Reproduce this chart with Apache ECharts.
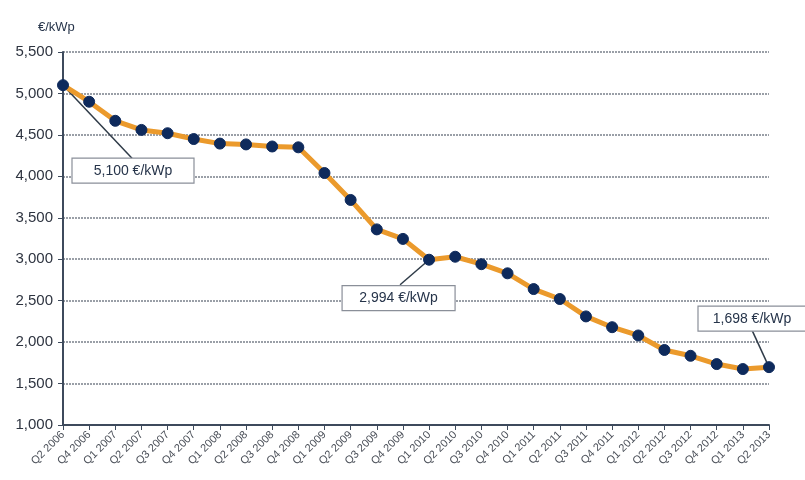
<!DOCTYPE html>
<html><head><meta charset="utf-8">
<script src="https://cdn.jsdelivr.net/npm/echarts@6/dist/echarts.min.js"></script>
<style>html,body{margin:0;padding:0;background:#fff}#c{width:805px;height:480px}</style>
</head><body><div id="c"></div>
<script>
const categories = ['Q2 2006','Q4 2006','Q1 2007','Q2 2007','Q3 2007','Q4 2007','Q1 2008','Q2 2008','Q3 2008','Q4 2008',
  'Q1 2009','Q2 2009','Q3 2009','Q4 2009','Q1 2010','Q2 2010','Q3 2010','Q4 2010','Q1 2011','Q2 2011',
  'Q3 2011','Q4 2011','Q1 2012','Q2 2012','Q3 2012','Q4 2012','Q1 2013','Q2 2013'];
const prices = [5100,4900,4670,4560,4520,4450,4395,4385,4360,4350,
  4040,3715,3360,3245,2994,3030,2940,2830,2640,2520,
  2310,2180,2080,1905,1835,1735,1675,1698];
const annotationIndex = [0,14,27];
const annotationText = ['5,100 €/kWp','2,994 €/kWp','1,698 €/kWp'];
// box offsets relative to point (dx, dy of box top-left corner) and line end offsets
const annotationBoxOffset = [[9,73],[-87,26],[-71,-61]];
const annotationLineEnd = [[69,73],[-29,25],[-17,-37]];
const boxW = [122,113,108], boxH = 25;

const chart = echarts.init(document.getElementById('c'), null, {renderer:'canvas'});
const fmt = v => v.toLocaleString('en-US');
chart.setOption({
  animation:false,
  backgroundColor:'#fff',
  grid:{left:63,right:36,top:52,bottom:55},
  title:{text:'€/kWp',left:33,top:16,textStyle:{fontSize:13,fontWeight:'normal',color:'#26344a',fontFamily:'Liberation Sans, Arial'}},
  xAxis:{type:'category',data:categories,boundaryGap:false,
    axisLine:{lineStyle:{color:'#3d4a5c',width:2}},
    axisTick:{show:true,length:5,lineStyle:{color:'#3d4a5c'}},
    axisLabel:{rotate:45,fontSize:11,color:'#4a4f58',margin:8,interval:0,fontFamily:'Liberation Sans, Arial'}},
  yAxis:{type:'value',min:1000,max:5500,interval:500,
    axisLine:{show:true,lineStyle:{color:'#3d4a5c',width:2}},
    axisTick:{show:true,length:5,lineStyle:{color:'#3d4a5c'}},
    axisLabel:{formatter:fmt,fontSize:15,color:'#2e3440',margin:10,fontFamily:'Liberation Sans, Arial'},
    splitLine:{show:true,lineStyle:{color:'#7a808a',type:[2,1],width:1.5}}},
  series:[{type:'line',data:prices,
    lineStyle:{color:'#eb9a2c',width:5},
    symbol:'circle',symbolSize:11,
    itemStyle:{color:'#0e2a5c',borderColor:'#0e2a5c'}}]
});

const graphics = [];
annotationIndex.forEach((idx,i)=>{
  const p = chart.convertToPixel({seriesIndex:0},[idx,prices[idx]]);
  const bo = annotationBoxOffset[i], le = annotationLineEnd[i];
  graphics.push({type:'line',z:1,shape:{x1:p[0],y1:p[1],x2:p[0]+le[0],y2:p[1]+le[1]},style:{stroke:'#2f3b48',lineWidth:1.5}});
  graphics.push({type:'rect',z:5,shape:{x:p[0]+bo[0],y:p[1]+bo[1],width:boxW[i],height:boxH},style:{fill:'#fff',stroke:'#8a8f99',lineWidth:1.2}});
  graphics.push({type:'text',z:6,x:p[0]+bo[0]+boxW[i]/2,y:p[1]+bo[1]+boxH/2,style:{text:annotationText[i],fill:'#26344a',font:'14px Liberation Sans, Arial',align:'center',verticalAlign:'middle'}});
});
chart.setOption({graphic:{elements:graphics}});
</script></body></html>
